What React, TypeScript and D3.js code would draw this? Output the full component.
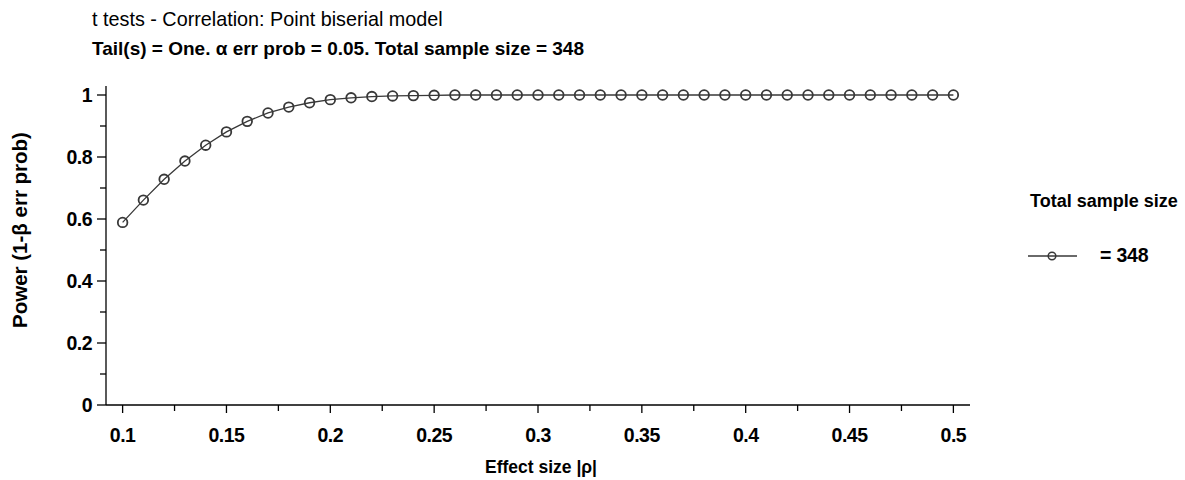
import React, { useEffect } from "react";
import * as d3 from "d3";

// Power curve: one-tailed t test, point biserial correlation, N = 348, alpha = 0.05
const effectSizes = [
  0.10, 0.11, 0.12, 0.13, 0.14, 0.15, 0.16, 0.17, 0.18, 0.19,
  0.20, 0.21, 0.22, 0.23, 0.24, 0.25, 0.26, 0.27, 0.28, 0.29,
  0.30, 0.31, 0.32, 0.33, 0.34, 0.35, 0.36, 0.37, 0.38, 0.39,
  0.40, 0.41, 0.42, 0.43, 0.44, 0.45, 0.46, 0.47, 0.48, 0.49, 0.50,
];
const powerValues = [
  0.589, 0.661, 0.728, 0.787, 0.838, 0.881, 0.915, 0.942, 0.961, 0.975,
  0.985, 0.991, 0.995, 0.997, 0.998, 0.999, 1.0, 1.0, 1.0, 1.0,
  1.0, 1.0, 1.0, 1.0, 1.0, 1.0, 1.0, 1.0, 1.0, 1.0,
  1.0, 1.0, 1.0, 1.0, 1.0, 1.0, 1.0, 1.0, 1.0, 1.0, 1.0,
];

const xMajorTicks = [0.1, 0.15, 0.2, 0.25, 0.3, 0.35, 0.4, 0.45, 0.5];
const xMinorTicks = [0.125, 0.175, 0.225, 0.275, 0.325, 0.375, 0.425, 0.475];
const yMajorTicks = [0, 0.2, 0.4, 0.6, 0.8, 1];
const yMinorTicks = [0.1, 0.3, 0.5, 0.7, 0.9];

const titleText = "t tests - Correlation: Point biserial model";
const subtitleText = "Tail(s) = One. \u03b1 err prob = 0.05. Total sample size = 348";
const xAxisTitle = "Effect size |\u03c1|";
const yAxisTitle = "Power (1-\u03b2 err prob)";
const legendTitle = "Total sample size";
const legendEntry = "= 348";

const W = 1185;
const H = 480;
const FONT = "'Liberation Sans', Arial, sans-serif";
const INK = "#000";
const MARK = "#383838";

export default function App() {
  useEffect(() => {
    document.body.style.margin = "0";
  }, []);

  const x = d3.scaleLinear().domain([0.092, 0.508]).range([106, 970]);
  const y = d3.scaleLinear().domain([0, 1]).range([405, 95]);
  const yTop = 86;
  const x0 = x.range()[0];
  const y0 = y(0);

  const pts = effectSizes.map((e, i) => [e, powerValues[i]] as [number, number]);
  const line = d3
    .line<[number, number]>()
    .x((d) => x(d[0]))
    .y((d) => y(d[1]));

  const fmt = (v: number) => (v === 0 ? "0" : v === 1 ? "1" : String(+v.toFixed(2)));

  return (
    <svg width={W} height={H} style={{ display: "block", background: "#fff" }} fontFamily={FONT}>
      {/* titles */}
      <text x={92} y={26} fontSize={19.8} fill={INK}>{titleText}</text>
      <text x={92} y={55} fontSize={19} fontWeight="bold" fill={INK}>{subtitleText}</text>

      {/* axes lines */}
      <line x1={x0} y1={yTop} x2={x0} y2={y0} stroke={INK} strokeWidth={1.3} />
      <line x1={x0} y1={y0} x2={x.range()[1]} y2={y0} stroke={INK} strokeWidth={1.3} />

      {/* x ticks */}
      {xMajorTicks.map((t) => (
        <g key={"xm" + t}>
          <line x1={x(t)} x2={x(t)} y1={y0} y2={y0 + 8} stroke={INK} strokeWidth={1.3} />
          <text x={x(t)} y={442} fontSize={19.5} fontWeight="bold" textAnchor="middle" fill={INK} letterSpacing={-0.5}>
            {fmt(t)}
          </text>
        </g>
      ))}
      {xMinorTicks.map((t) => (
        <line key={"xn" + t} x1={x(t)} x2={x(t)} y1={y0} y2={y0 + 6} stroke={INK} strokeWidth={1.3} />
      ))}

      {/* y ticks */}
      {yMajorTicks.map((t) => (
        <g key={"ym" + t}>
          <line x1={x0 - 9} x2={x0} y1={y(t)} y2={y(t)} stroke={INK} strokeWidth={1.3} />
          <text x={92} y={y(t) + 7} fontSize={19.5} fontWeight="bold" textAnchor="end" fill={INK} letterSpacing={-0.5}>
            {fmt(t)}
          </text>
        </g>
      ))}
      {yMinorTicks.map((t) => (
        <line key={"yn" + t} x1={x0 - 6} x2={x0} y1={y(t)} y2={y(t)} stroke={INK} strokeWidth={1.3} />
      ))}

      {/* axis titles */}
      <text x={541} y={473} fontSize={17.5} fontWeight="bold" textAnchor="middle" fill={INK}>
        {xAxisTitle}
      </text>
      <text
        transform={`translate(27,230) rotate(-90)`}
        fontSize={20.5}
        fontWeight="bold"
        textAnchor="middle"
        fill={INK}
      >
        {yAxisTitle}
      </text>

      {/* series */}
      <path d={line(pts) ?? ""} fill="none" stroke={MARK} strokeWidth={1.3} />
      {pts.map((d, i) => (
        <circle key={i} cx={x(d[0])} cy={y(d[1])} r={4.8} fill="none" stroke={MARK} strokeWidth={1.8} />
      ))}

      {/* legend */}
      <text x={1030} y={207} fontSize={18} fontWeight="bold" fill={INK}>{legendTitle}</text>
      <line x1={1028} x2={1077} y1={256} y2={256} stroke={MARK} strokeWidth={1.3} />
      <circle cx={1052} cy={256} r={3.8} fill="none" stroke={MARK} strokeWidth={1.5} />
      <text x={1100} y={262} fontSize={19.5} fontWeight="bold" fill={INK} letterSpacing={-0.2}>{legendEntry}</text>
    </svg>
  );
}
